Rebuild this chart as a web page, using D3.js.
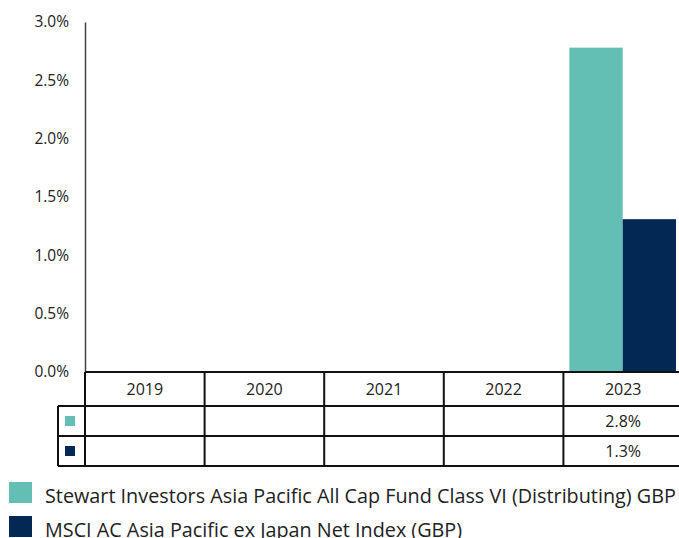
<!DOCTYPE html>
<html>
<head>
<meta charset="utf-8">
<script src="https://cdn.jsdelivr.net/npm/d3@7"></script>
<style>
  body { margin: 0; background: #fff; }
  text { font-family: "Open Sans", sans-serif; font-weight: 400; fill: #222; }
</style>
</head>
<body>
<div id="chart"></div>
<script>
// data
const years = ["2019", "2020", "2021", "2022", "2023"];
const seriesNames = [
  "Stewart Investors Asia Pacific All Cap Fund Class VI (Distributing) GBP",
  "MSCI AC Asia Pacific ex Japan Net Index (GBP)"
];
const fundValues = [null, null, null, null, 2.78];
const indexValues = [null, null, null, null, 1.31];
const fundLabels = ["", "", "", "", "2.8%"];
const indexLabels = ["", "", "", "", "1.3%"];
const yTicks = [0, 0.5, 1, 1.5, 2, 2.5, 3];
const colors = ["#63bfb4", "#022954"];

const width = 679, height = 538;
const plotLeft = 85, plotRight = 683, plotTop = 22, plotBottom = 372;

const svg = d3.select("#chart").append("svg")
  .attr("width", width)
  .attr("height", height);

// scales
const x = d3.scaleBand().domain(years).range([plotLeft, plotRight]).paddingInner(0).paddingOuter(0);
const xSub = d3.scaleBand().domain([0, 1]).range([6, x.bandwidth() - 7]);
const y = d3.scaleLinear().domain([0, 3]).range([plotBottom, plotTop]);

// Y axis
const yAxis = svg.append("g")
  .attr("transform", `translate(${plotLeft},0)`)
  .call(d3.axisLeft(y).tickValues(yTicks).tickSize(0).tickPadding(16)
    .tickFormat(d => d3.format(".1f")(d) + "%"));
yAxis.select(".domain").attr("stroke", "#444").attr("stroke-width", 1.5);
yAxis.selectAll("text")
  .style("font-size", "15.5px")
  .style("font-family", "'Open Sans', sans-serif")
  .attr("fill", "#222");

// bars
const barData = [];
years.forEach((yr, i) => {
  [fundValues[i], indexValues[i]].forEach((v, s) => {
    if (v != null) barData.push({ year: yr, s: s, value: v });
  });
});

svg.selectAll(".bar")
  .data(barData)
  .enter()
  .append("rect")
  .attr("class", "bar")
  .attr("x", d => x(d.year) + xSub(d.s))
  .attr("width", xSub.bandwidth())
  .attr("y", d => y(d.value))
  .attr("height", d => y(0) - y(d.value))
  .attr("fill", d => colors[d.s]);

// data table
const rowH = [34, 30, 30];
const rowY = [plotBottom, plotBottom + rowH[0], plotBottom + rowH[0] + rowH[1], plotBottom + rowH[0] + rowH[1] + rowH[2]];
const keyLeft = 58;
const table = svg.append("g").attr("stroke", "#111").attr("stroke-width", 2).attr("fill", "none");

// horizontal lines
table.append("line").attr("x1", plotLeft).attr("x2", plotRight).attr("y1", rowY[0]).attr("y2", rowY[0]);
[1, 2, 3].forEach(r => {
  table.append("line").attr("x1", keyLeft).attr("x2", plotRight).attr("y1", rowY[r]).attr("y2", rowY[r]);
});
// vertical lines
table.append("line").attr("x1", keyLeft).attr("x2", keyLeft).attr("y1", rowY[1]).attr("y2", rowY[3]);
years.forEach(yr => {
  table.append("line").attr("x1", x(yr)).attr("x2", x(yr)).attr("y1", rowY[0]).attr("y2", rowY[3]);
});
table.append("line").attr("x1", plotRight).attr("x2", plotRight).attr("y1", rowY[0]).attr("y2", rowY[3]);

// header years
svg.selectAll(".yr")
  .data(years)
  .enter()
  .append("text")
  .attr("x", d => x(d) + x.bandwidth() / 2)
  .attr("y", (rowY[0] + rowY[1]) / 2)
  .attr("dy", "0.36em")
  .attr("text-anchor", "middle")
  .style("font-size", "16px")
  .text(d => d);

// table rows
[fundLabels, indexLabels].forEach((labels, r) => {
  const cy = (rowY[r + 1] + rowY[r + 2]) / 2;
  svg.append("rect")
    .attr("x", 65).attr("y", cy - 5)
    .attr("width", 10).attr("height", 10)
    .attr("fill", colors[r]);
  svg.selectAll(".cell" + r)
    .data(labels)
    .enter()
    .append("text")
    .attr("x", (d, i) => x(years[i]) + x.bandwidth() / 2)
    .attr("y", cy)
    .attr("dy", "0.36em")
    .attr("text-anchor", "middle")
    .style("font-size", "16px")
    .text(d => d);
});

// legend
const legend = svg.append("g");
seriesNames.forEach((name, i) => {
  const ly = 482 + i * 34;
  legend.append("rect")
    .attr("x", 9).attr("y", ly)
    .attr("width", 23).attr("height", 21)
    .attr("fill", colors[i]);
  legend.append("text")
    .attr("x", 45).attr("y", ly + 21)
    .style("font-size", "19.8px")
    .text(name);
});
</script>
</body>
</html>
